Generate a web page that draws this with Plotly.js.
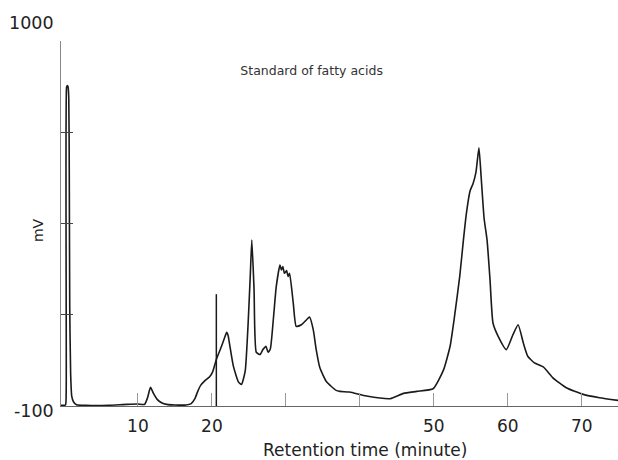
<!DOCTYPE html>
<html>
<head>
<meta charset="utf-8">
<script src="https://cdn.plot.ly/plotly-3.0.1.min.js"></script>
<style>html,body{margin:0;padding:0;background:#fff;}#chart{width:618px;height:460px;}</style>
</head>
<body>
<div id="chart"></div>
<script>
// Retention time (minutes)
var retentionTime = [-0.4, 0.2, 0.3, 0.35, 0.45, 0.55, 0.65, 0.72, 0.78, 0.9, 1.05, 1.3, 1.7, 3, 6, 8.5, 10.0, 10.9, 11.3, 11.7, 12.1, 12.6, 13.2, 13.9, 15, 16.5, 17.2, 17.7, 18.1, 18.5, 19.0, 19.7, 20.1, 20.6, 21.3, 21.7, 22.0, 22.2, 22.4, 22.9, 23.6, 24.0, 24.5, 24.9, 25.2, 25.4, 25.7, 26.0, 26.5, 26.9, 27.3, 27.6, 27.9, 28.3, 28.7, 29.2, 29.4, 29.6, 29.8, 30.1, 30.3, 30.5, 31.0, 31.4, 32.1, 32.8, 33.2, 33.7, 34.1, 34.6, 35.5, 36.8, 37.3, 38.6, 40.9, 44.1, 45.9, 47.7, 49.9, 51.3, 52.2, 52.8, 53.5, 54.0, 54.4, 54.9, 55.3, 55.7, 56.1, 56.4, 56.8, 57.2, 57.6, 58.0, 58.7, 59.8, 60.7, 61.4, 62.1, 62.7, 63.6, 64.8, 66.1, 67.9, 70.2, 72.4, 74.9];
// Detector signal (mV)
var signalMV = [-98, -97, -60, 860, 866, 862, 830, 600, 200, 0, -70, -88, -96, -98, -98, -95, -94, -95, -75, -44, -62, -80, -90, -95, -97, -97, -93, -78, -55, -37, -25, -12, 3, 40, 80, 105, 122, 112, 85, 20, -28, -35, 5, 150, 300, 400, 250, 62, 55, 70, 80, 62, 72, 160, 260, 325, 310, 320, 300, 308, 290, 300, 210, 140, 145, 160, 168, 130, 70, 15, -27, -53, -56, -58, -70, -78, -62, -56, -48, 8, 80, 170, 290, 400, 480, 548, 570, 605, 678, 590, 465, 400, 280, 150, 110, 70, 115, 145, 90, 50, 30, 18, -15, -45, -65, -75, -83];
// Injection marker line
var markerTime = [20.6, 20.6];
var markerMV = [-100, 237];
// Axis ticks
var xTickVals = [10, 20, 30, 40, 50, 60, 70];
var xTickText = ["10", "20", "", "", "50", "60", "70"];
var yTickVals = [-100, 175, 450, 725, 1000];
var yLabelTexts = ["1000", "-100"];

var fontFam = "DejaVu Sans, Verdana, sans-serif";
var traces = [
  {x: retentionTime, y: signalMV, type: "scatter", mode: "lines",
   line: {color: "#1a1a1a", width: 1.6, shape: "spline", smoothing: 0.5}, hoverinfo: "skip"},
  {x: markerTime, y: markerMV, type: "scatter", mode: "lines",
   line: {color: "#1a1a1a", width: 1.5}, hoverinfo: "skip"}
];
var layout = {
  width: 618, height: 460,
  margin: {l: 61, r: 0, t: 41, b: 54},
  paper_bgcolor: "#ffffff", plot_bgcolor: "#ffffff",
  showlegend: false,
  title: {text: "Standard of fatty acids", x: 0.45, xref: "paper", y: 0.846, yref: "container",
          xanchor: "center", yanchor: "middle", font: {family: fontFam, size: 12.5, color: "#333"}},
  xaxis: {range: [-0.4, 74.9], showgrid: false, zeroline: false, showline: true,
          linecolor: "#666", linewidth: 1.2, ticks: "inside", ticklen: 13, tickwidth: 1,
          tickcolor: "#999", tickvals: xTickVals, ticktext: xTickText,
          tickfont: {family: fontFam, size: 17, color: "#222"}, ticklabelstandoff: 4},
  yaxis: {range: [-100, 1000], showgrid: false, zeroline: false, showline: true,
          linecolor: "#888", linewidth: 1.5, ticks: "inside", ticklen: 12, tickwidth: 1,
          tickcolor: "#444", tickvals: yTickVals, showticklabels: false},
  annotations: [
    {text: yLabelTexts[0], xref: "paper", x: 0, xshift: -5, xanchor: "right", yref: "y", y: 1000, yshift: 18,
     yanchor: "middle", showarrow: false, font: {family: fontFam, size: 17.5, color: "#222"}},
    {text: yLabelTexts[1], xref: "paper", x: 0, xshift: -5, xanchor: "right", yref: "y", y: -100, yshift: -5,
     yanchor: "middle", showarrow: false, font: {family: fontFam, size: 17.5, color: "#222"}},
    {text: "mV", xref: "paper", x: 0, xshift: -23, xanchor: "center", yref: "paper", y: 0.482,
     yanchor: "middle", textangle: -90, showarrow: false, font: {family: fontFam, size: 14, color: "#222"}},
    {text: "Retention time (minute)", xref: "x", x: 40.7, xanchor: "center", yref: "paper", y: 0, yshift: -44,
     yanchor: "middle", showarrow: false, font: {family: fontFam, size: 17, color: "#222"}}
  ]
};
Plotly.newPlot("chart", traces, layout, {staticPlot: true, displayModeBar: false});
</script>
</body>
</html>
